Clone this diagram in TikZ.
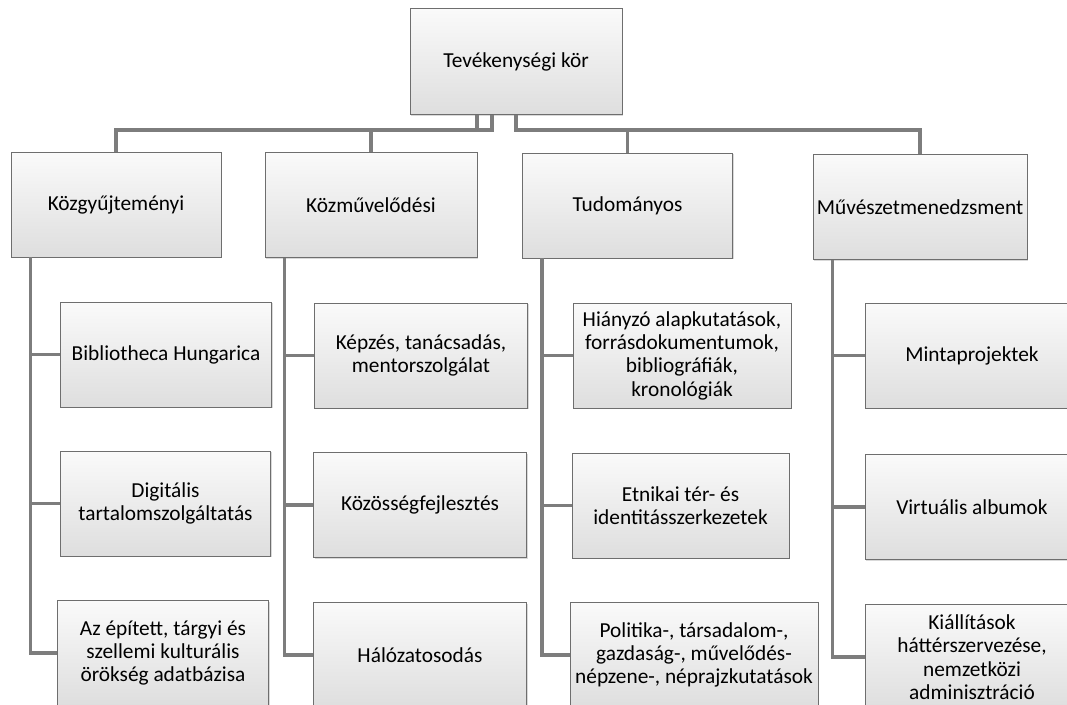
\documentclass[tikz,border=0pt]{standalone}
\usepackage{fontspec}
\setmainfont{Carlito}
\usetikzlibrary{shadows}
\definecolor{boxline}{RGB}{110,110,110}
\definecolor{boxtop}{RGB}{250,250,250}
\definecolor{boxbottom}{RGB}{222,222,222}
\definecolor{linkgray}{RGB}{125,125,125}
\tikzstyle{card} = [rectangle, draw=boxline, line width=0.6pt, top color=boxtop, bottom color=boxbottom, inner sep=2pt, align=center, font=\fontsize{16}{17.5}\selectfont, drop shadow={shadow xshift=0.9pt, shadow yshift=-0.9pt, opacity=0.3}]
\tikzstyle{rootbox} = [card, minimum width=159pt, minimum height=80pt]
\tikzstyle{groupbox} = [card, minimum width=157.5pt, minimum height=78.75pt]
\tikzstyle{leafbox} = [card, minimum width=158pt, minimum height=78.75pt]
\tikzstyle{link} = [line width=2.8pt, draw=linkgray]

\begin{document}
\begin{tikzpicture}[x=0.75pt, y=-0.75pt]
        \useasboundingbox (0,0) rectangle (1067,704);
        % Nodes
        \node (root) [rootbox] at (516,61.5) {Tevékenységi kör};
        \node (gyujt) [groupbox] at (116,204.5) {Közgyűjteményi};
        \node (muvel) [groupbox, minimum width=159pt] at (371,205) {Közművelődési};
        \node (tudom) [groupbox] at (627.5,205.5) {Tudományos};
        \node (menedzs) [groupbox, minimum width=160.5pt] at (920,207) {Művészetmenedzsment};

        \node (biblio) [leafbox] at (166,354.5) {Bibliotheca Hungarica};
        \node (digit) [leafbox] at (165.5,503.5) {Digitális\\tartalomszolgáltatás};
        \node (orokseg) [leafbox] at (163,653) {Az épített, tárgyi és\\szellemi kulturális\\örökség adatbázisa};

        \node (kepzes) [leafbox, minimum width=160pt] at (421,355.5) {Képzés, tanácsadás,\\mentorszolgálat};
        \node (kozosseg) [leafbox, minimum width=160pt] at (420,505) {Közösségfejlesztés};
        \node (halozat) [leafbox, minimum width=160pt] at (420,655) {Hálózatosodás};

        \node (alap) [leafbox, minimum width=163.5pt] at (682,355.5) {Hiányzó alapkutatások,\\forrásdokumentumok,\\bibliográfiák,\\kronológiák};
        \node (etnikai) [leafbox, minimum width=162.75pt] at (680.5,505.5) {Etnikai tér- és\\identitásszerkezetek};
        \node (politika) [leafbox, minimum width=186pt] at (694,655) {Politika-, társadalom-,\\gazdaság-, művelődés-\\népzene-, néprajzkutatások};

        \node (minta) [leafbox, minimum width=160.5pt] at (972,355.5) {Mintaprojektek};
        \node (album) [leafbox, minimum width=160.5pt] at (972,507) {Virtuális albumok};
        \node (kiallit) [leafbox, minimum width=160.5pt] at (972,657) {Kiállítások\\háttérszervezése,\\nemzetközi\\adminisztráció};

        % Connectors
        \draw [link] (root.south) ++(-39,0) -- ++(0,15) -| (gyujt.north);
        \draw [link] (root.south) ++(-24,0) -- ++(0,15) -| (muvel.north);
        \draw [link] (root.south) -- ++(0,15) -| (tudom.north);
        \draw [link] (root.south) -- ++(0,15) -| (menedzs.north);

        \draw [link] (gyujt.south west) ++(20,0) |- (biblio.west);
        \draw [link] (gyujt.south west) ++(20,0) |- (digit.west);
        \draw [link] (gyujt.south west) ++(20,0) |- (orokseg.west);

        \draw [link] (muvel.south west) ++(20,0) |- (kepzes.west);
        \draw [link] (muvel.south west) ++(20,0) |- (kozosseg.west);
        \draw [link] (muvel.south west) ++(20,0) |- (halozat.west);

        \draw [link] (tudom.south west) ++(20,0) |- (alap.west);
        \draw [link] (tudom.south west) ++(20,0) |- (etnikai.west);
        \draw [link] (tudom.south west) ++(20,0) |- (politika.west);

        \draw [link] (menedzs.south west) ++(20,0) |- (minta.west);
        \draw [link] (menedzs.south west) ++(20,0) |- (album.west);
        \draw [link] (menedzs.south west) ++(20,0) |- (kiallit.west);
\end{tikzpicture}
\end{document}
